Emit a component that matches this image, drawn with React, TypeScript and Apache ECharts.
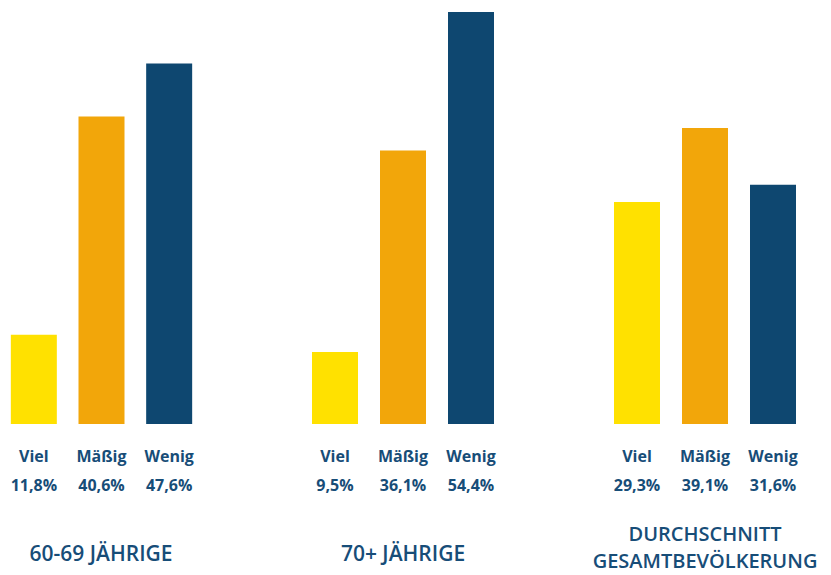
import React, { useEffect, useRef } from "react";
import * as echarts from "echarts";

const categories = ["Viel", "Mäßig", "Wenig"];
const groupTitles = [["60-69 JÄHRIGE"], ["70+ JÄHRIGE"], ["DURCHSCHNITT", "GESAMTBEVÖLKERUNG"]];
const values6069 = [11.8, 40.6, 47.6];
const values70plus = [9.5, 36.1, 54.4];
const valuesAverage = [29.3, 39.1, 31.6];
const barColors = ["#FFE100", "#F2A60A", "#0E4770"];

const TEXT = "#174D78";
const FONT = "'Open Sans', 'Noto Sans', sans-serif";

export default function App() {
  const ref = useRef<HTMLDivElement>(null);
  useEffect(() => {
    if (!ref.current) return;
    const chart = echarts.init(ref.current, undefined, { renderer: "svg" });
    const groups = [values6069, values70plus, valuesAverage];
    const maxVal = Math.max(...groups.flat());
    const fmt = (v: number) => v.toFixed(1).replace(".", ",") + "%";
    const lefts = [-1, 301, 603];
    const grids = lefts.map((l) => ({ left: l, top: 12, width: 204, height: 412 }));
    const xAxes = groups.map((vals, i) => ({
      type: "category",
      gridIndex: i,
      data: categories,
      axisLine: { show: false },
      axisTick: { show: false },
      axisLabel: {
        margin: 17,
        interval: 0,
        formatter: (v: string, idx: number) => `{a|${v}}\n{b|${fmt(vals[idx])}}`,
        rich: {
          a: { fontFamily: FONT, fontWeight: "bold", fontSize: 16, color: TEXT, lineHeight: 29 },
          b: { fontFamily: FONT, fontWeight: "bold", fontSize: 16, color: TEXT, lineHeight: 29 },
        },
      },
    }));
    const yAxes = groups.map((_, i) => ({
      type: "value",
      gridIndex: i,
      min: 0,
      max: maxVal,
      show: false,
      splitLine: { show: false },
    }));
    const series = groups.map((vals, i) => ({
      type: "bar",
      xAxisIndex: i,
      yAxisIndex: i,
      barWidth: 46,
      data: vals.map((v, j) => ({ value: v, itemStyle: { color: barColors[j] } })),
    }));
    const titles: any[] = [];
    groupTitles.forEach((lines, i) => {
      lines.forEach((t, k) => {
        const top = lines.length === 1 ? 539 : 520 + k * 27;
        titles.push({
          text: t,
          left: lefts[i] + 102,
          textAlign: "center",
          top,
          padding: 0,
          textStyle: {
            fontFamily: FONT,
            fontWeight: 600,
            fontSize: lines.length === 1 ? 21 : 20,
            color: TEXT,
            lineHeight: 27,
          },
        });
      });
    });
    chart.setOption({
      animation: false,
      title: titles,
      grid: grids,
      xAxis: xAxes,
      yAxis: yAxes,
      series,
    });
    return () => chart.dispose();
  }, []);
  return (
    <div
      ref={ref}
      style={{ position: "fixed", left: 0, top: 0, width: 831, height: 575, background: "#fff" }}
    />
  );
}
